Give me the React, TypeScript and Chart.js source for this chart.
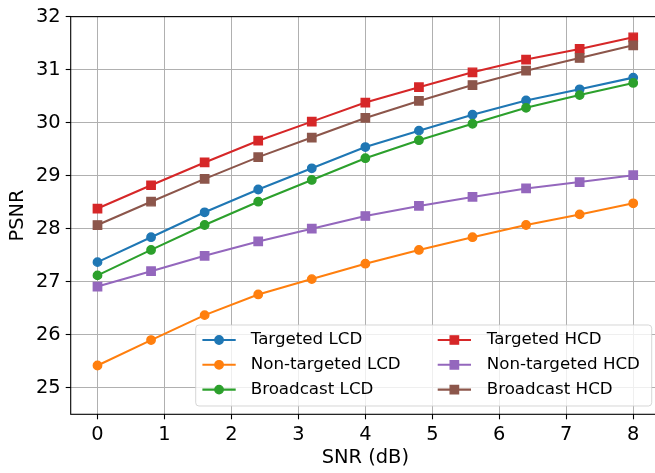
import React, { useEffect, useRef } from "react";
import { Chart, registerables } from "chart.js";
Chart.register(...registerables);

const SNR = [0, 0.8, 1.6, 2.4, 3.2, 4.0, 4.8, 5.6, 6.4, 7.2, 8.0];
const TARGETED_LCD = [27.37, 27.84, 28.31, 28.74, 29.14, 29.54, 29.85, 30.15, 30.42, 30.63, 30.85];
const NON_TARGETED_LCD = [25.42, 25.9, 26.37, 26.76, 27.05, 27.34, 27.6, 27.84, 28.07, 28.27, 28.48];
const BROADCAST_LCD = [27.12, 27.6, 28.07, 28.51, 28.92, 29.33, 29.67, 29.98, 30.28, 30.52, 30.75];
const TARGETED_HCD = [28.38, 28.82, 29.25, 29.66, 30.02, 30.38, 30.67, 30.95, 31.19, 31.39, 31.61];
const NON_TARGETED_HCD = [26.91, 27.2, 27.49, 27.76, 28.0, 28.24, 28.43, 28.6, 28.76, 28.88, 29.01];
const BROADCAST_HCD = [28.07, 28.51, 28.94, 29.35, 29.72, 30.09, 30.41, 30.71, 30.98, 31.22, 31.46];

const SERIES_LABELS = [
  "Targeted LCD",
  "Non-targeted LCD",
  "Broadcast LCD",
  "Targeted HCD",
  "Non-targeted HCD",
  "Broadcast HCD",
];
const SERIES_VALUES = [TARGETED_LCD, NON_TARGETED_LCD, BROADCAST_LCD, TARGETED_HCD, NON_TARGETED_HCD, BROADCAST_HCD];
const SERIES_COLORS = ["#1f77b4", "#ff7f0e", "#2ca02c", "#d62728", "#9467bd", "#8c564b"];
const SERIES_MARKERS = ["circle", "circle", "circle", "rect", "rect", "rect"];

const X_TICKS = [0, 1, 2, 3, 4, 5, 6, 7, 8];
const Y_TICKS = [25, 26, 27, 28, 29, 30, 31, 32];
const X_TITLE = "SNR (dB)";
const Y_TITLE = "PSNR";

const FONT = "'DejaVu Sans', sans-serif";

const spinePlugin = {
  id: "spines",
  afterDatasetsDraw(chart: any) {
    const { ctx, chartArea } = chart;
    ctx.save();
    ctx.strokeStyle = "#000";
    ctx.lineWidth = 1.1;
    ctx.strokeRect(chartArea.left, chartArea.top, chartArea.right - chartArea.left, chartArea.bottom - chartArea.top);
    ctx.restore();
  },
};

function drawMarker(ctx: CanvasRenderingContext2D, style: string, x: number, y: number, color: string) {
  ctx.fillStyle = color;
  ctx.strokeStyle = color;
  ctx.lineWidth = 1.4;
  ctx.beginPath();
  if (style === "circle") {
    ctx.arc(x, y, 4.2, 0, Math.PI * 2);
  } else {
    const s = 4.17;
    ctx.rect(x - s, y - s, 2 * s, 2 * s);
  }
  ctx.fill();
  ctx.stroke();
}

const legendPlugin = {
  id: "innerLegend",
  afterDraw(chart: any) {
    const { ctx, chartArea } = chart;
    const fs = 16.7;
    const w = 456;
    const h = 81;
    const gap = 8.3;
    const right = chartArea.right - gap;
    const bottom = chartArea.bottom - gap;
    const left = right - w;
    const top = bottom - h;
    ctx.save();
    const r = 3.3;
    ctx.beginPath();
    ctx.moveTo(left + r, top);
    ctx.lineTo(right - r, top);
    ctx.arcTo(right, top, right, top + r, r);
    ctx.lineTo(right, bottom - r);
    ctx.arcTo(right, bottom, right - r, bottom, r);
    ctx.lineTo(left + r, bottom);
    ctx.arcTo(left, bottom, left, bottom - r, r);
    ctx.lineTo(left, top + r);
    ctx.arcTo(left, top, left + r, top, r);
    ctx.closePath();
    ctx.fillStyle = "rgba(255,255,255,0.8)";
    ctx.fill();
    ctx.strokeStyle = "rgba(204,204,204,0.8)";
    ctx.lineWidth = 1;
    ctx.stroke();

    ctx.font = `${fs}px ${FONT}`;
    ctx.textBaseline = "middle";
    ctx.textAlign = "left";
    chart.data.datasets.forEach((ds: any, i: number) => {
      const col = Math.floor(i / 3);
      const row = i % 3;
      const hx = left + (col ? 242 : 6.7);
      const cy = top + 15 + row * 24.8;
      ctx.strokeStyle = ds.borderColor;
      ctx.lineWidth = 2.08;
      ctx.beginPath();
      ctx.moveTo(hx, cy);
      ctx.lineTo(hx + 33.3, cy);
      ctx.stroke();
      drawMarker(ctx, ds.pointStyle, hx + 16.65, cy, ds.borderColor);
      ctx.fillStyle = "#000";
      ctx.fillText(ds.label, left + (col ? 291 : 55), cy);
    });
    ctx.restore();
  },
};

export default function App() {
  const ref = useRef<HTMLCanvasElement | null>(null);
  useEffect(() => {
    if (!ref.current) return;
    Chart.defaults.font.family = FONT;
    const datasets = SERIES_LABELS.map((label, i) => ({
      label,
      data: SNR.map((x, j) => ({ x, y: SERIES_VALUES[i][j] })),
      borderColor: SERIES_COLORS[i],
      backgroundColor: SERIES_COLORS[i],
      pointBackgroundColor: SERIES_COLORS[i],
      pointBorderColor: SERIES_COLORS[i],
      pointStyle: SERIES_MARKERS[i],
      pointRadius: SERIES_MARKERS[i] === "circle" ? 4.2 : 5.9,
      pointBorderWidth: 1.4,
      borderWidth: 2.08,
      tension: 0,
      order: 10 - i,
    }));
    const chart = new Chart(ref.current, {
      type: "line",
      data: { datasets },
      plugins: [spinePlugin, legendPlugin],
      options: {
        animation: false,
        responsive: false,
        devicePixelRatio: 1,
        layout: { padding: { top: 12.7, right: 10, bottom: 0, left: 0 }, autoPadding: false },
        plugins: { legend: { display: false }, tooltip: { enabled: false } },
        scales: {
          x: {
            type: "linear",
            min: -0.4,
            max: 8.4,
            afterBuildTicks: (scale: any) => {
              scale.ticks = X_TICKS.map((v) => ({ value: v }));
            },
            afterFit: (scale: any) => {
              scale.height = 58.7;
            },
            ticks: {
              autoSkip: false,
              maxRotation: 0,
              padding: 4,
              color: "#000",
              font: { size: 19.4, family: FONT },
              callback: (v: any) => String(v),
            },
            grid: { color: "#b0b0b0", lineWidth: 1, drawTicks: true, tickLength: 5, tickColor: "#000", tickWidth: 1.1 },
            border: { display: false },
            title: { display: true, text: X_TITLE, color: "#000", font: { size: 19.4, family: FONT }, padding: { top: 0, bottom: 3 } },
          },
          y: {
            type: "linear",
            min: 24.5,
            max: 32,
            afterBuildTicks: (scale: any) => {
              scale.ticks = Y_TICKS.map((v) => ({ value: v }));
            },
            afterFit: (scale: any) => {
              scale.width = 70.7;
            },
            ticks: {
              autoSkip: false,
              padding: 5,
              color: "#000",
              font: { size: 19.4, family: FONT },
              callback: (v: any) => String(v),
            },
            grid: { color: "#b0b0b0", lineWidth: 1, drawTicks: true, tickLength: 5, tickColor: "#000", tickWidth: 1.1 },
            border: { display: false },
            title: { display: true, text: Y_TITLE, color: "#000", font: { size: 19.4, family: FONT }, padding: { top: 6, bottom: 0 } },
          },
        },
      } as any,
    });
    return () => chart.destroy();
  }, []);
  return (
    <div style={{ position: "fixed", left: 0, top: 0, width: 655, height: 473, overflow: "hidden", background: "#fff" }}>
      <canvas ref={ref} width={670} height={473} style={{ display: "block", width: 670, height: 473 }} />
    </div>
  );
}
